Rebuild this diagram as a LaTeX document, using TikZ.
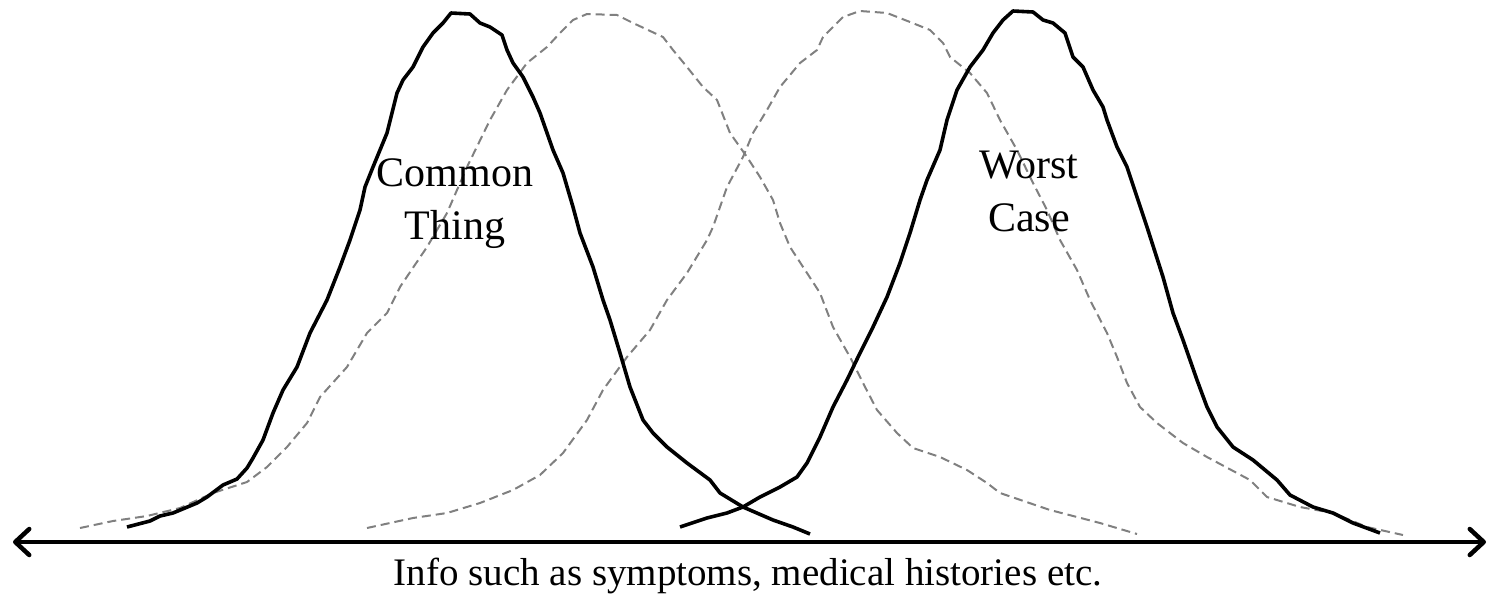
\documentclass[tikz,border=0pt]{standalone}
\usepackage{fontspec}
\setmainfont{Liberation Serif}
\usetikzlibrary{arrows.meta}
\tikzset{
  solidcurve/.style={line width=3.6pt, line join=round, line cap=butt, black},
  dashcurve/.style={line width=2pt, line join=round, draw=black!50, dash pattern=on 9pt off 5pt},
  axisline/.style={line width=4.5pt, {Straight Barb[length=14pt, width=26pt, line cap=round, line join=round]}-{Straight Barb[length=14pt, width=26pt, line cap=round, line join=round]}},
  lbl/.style={font=\fontsize{42}{53}\selectfont, align=center, inner sep=0pt},
  axlbl/.style={font=\fontsize{39}{47}\selectfont, inner sep=0pt}
}
\begin{document}
\begin{tikzpicture}[x=1pt,y=-1pt]
\useasboundingbox (0,0) rectangle (1493,595);
% dashed curve A
\draw[dashcurve] (80,528) -- (113,521) -- (147,516) -- (180,508) -- (213,493) -- (247,482) -- (267,467) -- (287,447) -- (307,423) -- (320,397) -- (347,367) -- (367,333) -- (387,313) -- (400,287) -- (427,247) -- (447,213) -- (467,167) -- (490,120) -- (507,90) -- (527,63) -- (547,47) -- (560,33) -- (573,20) -- (587,14) -- (617,15) -- (633,23) -- (663,37) -- (673,50) -- (687,67) -- (703,87) -- (717,100) -- (730,133) -- (747,157) -- (760,177) -- (773,200) -- (780,223) -- (790,247) -- (807,273) -- (820,293) -- (833,327) -- (850,357) -- (863,383) -- (877,410) -- (897,433) -- (913,448) -- (940,457) -- (967,470) -- (987,483) -- (1000,493) -- (1050,510) -- (1100,523) -- (1137,534);
% dashed curve B
\draw[dashcurve] (367,528) -- (413,518) -- (447,513) -- (480,503) -- (513,490) -- (540,475) -- (563,453) -- (587,420) -- (603,390) -- (627,357) -- (650,330) -- (667,300) -- (687,273) -- (707,240) -- (713,227) -- (727,187) -- (743,157) -- (753,133) -- (767,110) -- (780,87) -- (800,63) -- (817,50) -- (823,37) -- (843,17) -- (860,11) -- (887,13) -- (910,22) -- (930,30) -- (943,43) -- (950,57) -- (970,73) -- (987,93) -- (1000,120) -- (1017,150) -- (1033,183) -- (1047,210) -- (1060,240) -- (1077,270) -- (1090,300) -- (1107,333) -- (1117,357) -- (1127,383) -- (1140,407) -- (1157,423) -- (1183,443) -- (1207,457) -- (1250,480) -- (1267,497) -- (1300,507) -- (1333,513) -- (1367,527) -- (1403,535);
% solid curve 1
\draw[solidcurve] (127,527) -- (150,521) -- (160,516) -- (173,513) -- (197,503) -- (207,497) -- (223,485) -- (237,479) -- (247,468) -- (253,458) -- (263,440) -- (273,413) -- (283,390) -- (297,367) -- (310,333) -- (327,300) -- (340,267) -- (350,240) -- (360,210) -- (365,187) -- (373,167) -- (387,133) -- (392,113) -- (397,93) -- (403,80) -- (413,67) -- (423,47) -- (433,33) -- (443,23) -- (451,13) -- (470,14) -- (480,23) -- (490,27) -- (502,35) -- (507,50) -- (513,63) -- (523,77) -- (533,97) -- (540,113) -- (553,150) -- (563,173) -- (573,207) -- (580,233) -- (593,267) -- (603,300) -- (610,320) -- (620,353) -- (630,387) -- (643,420) -- (653,433) -- (667,447) -- (687,463) -- (710,480) -- (720,493) -- (743,507) -- (773,520) -- (793,527) -- (810,534);
% solid curve 2
\draw[solidcurve] (680,527) -- (707,518) -- (727,513) -- (743,507) -- (760,497) -- (780,487) -- (797,477) -- (807,463) -- (820,437) -- (833,407) -- (847,380) -- (860,353) -- (873,327) -- (887,297) -- (900,263) -- (910,233) -- (920,200) -- (927,180) -- (940,150) -- (947,120) -- (957,90) -- (970,67) -- (983,50) -- (993,33) -- (1003,20) -- (1013,11) -- (1033,12) -- (1043,20) -- (1053,23) -- (1065,33) -- (1073,57) -- (1083,67) -- (1093,90) -- (1103,107) -- (1107,120) -- (1117,147) -- (1127,167) -- (1137,197) -- (1147,227) -- (1163,277) -- (1173,313) -- (1183,340) -- (1197,380) -- (1207,407) -- (1217,427) -- (1233,447) -- (1253,460) -- (1277,480) -- (1290,495) -- (1313,507) -- (1333,513) -- (1353,523) -- (1380,533);
% axis
\coordinate (axL) at (13,542);
\coordinate (axR) at (1486,542);
\draw[axisline] (axL) -- (axR);
% labels (base anchor = baseline of last line)
\node[lbl, anchor=base] (common) at (455,239) {Common\\Thing};
\node[lbl, anchor=base] (worst) at (1029,231) {Worst\\Case};
\node[axlbl, anchor=base] (axislabel) at (748,585) {Info such as symptoms, medical histories etc.};
\end{tikzpicture}
\end{document}
